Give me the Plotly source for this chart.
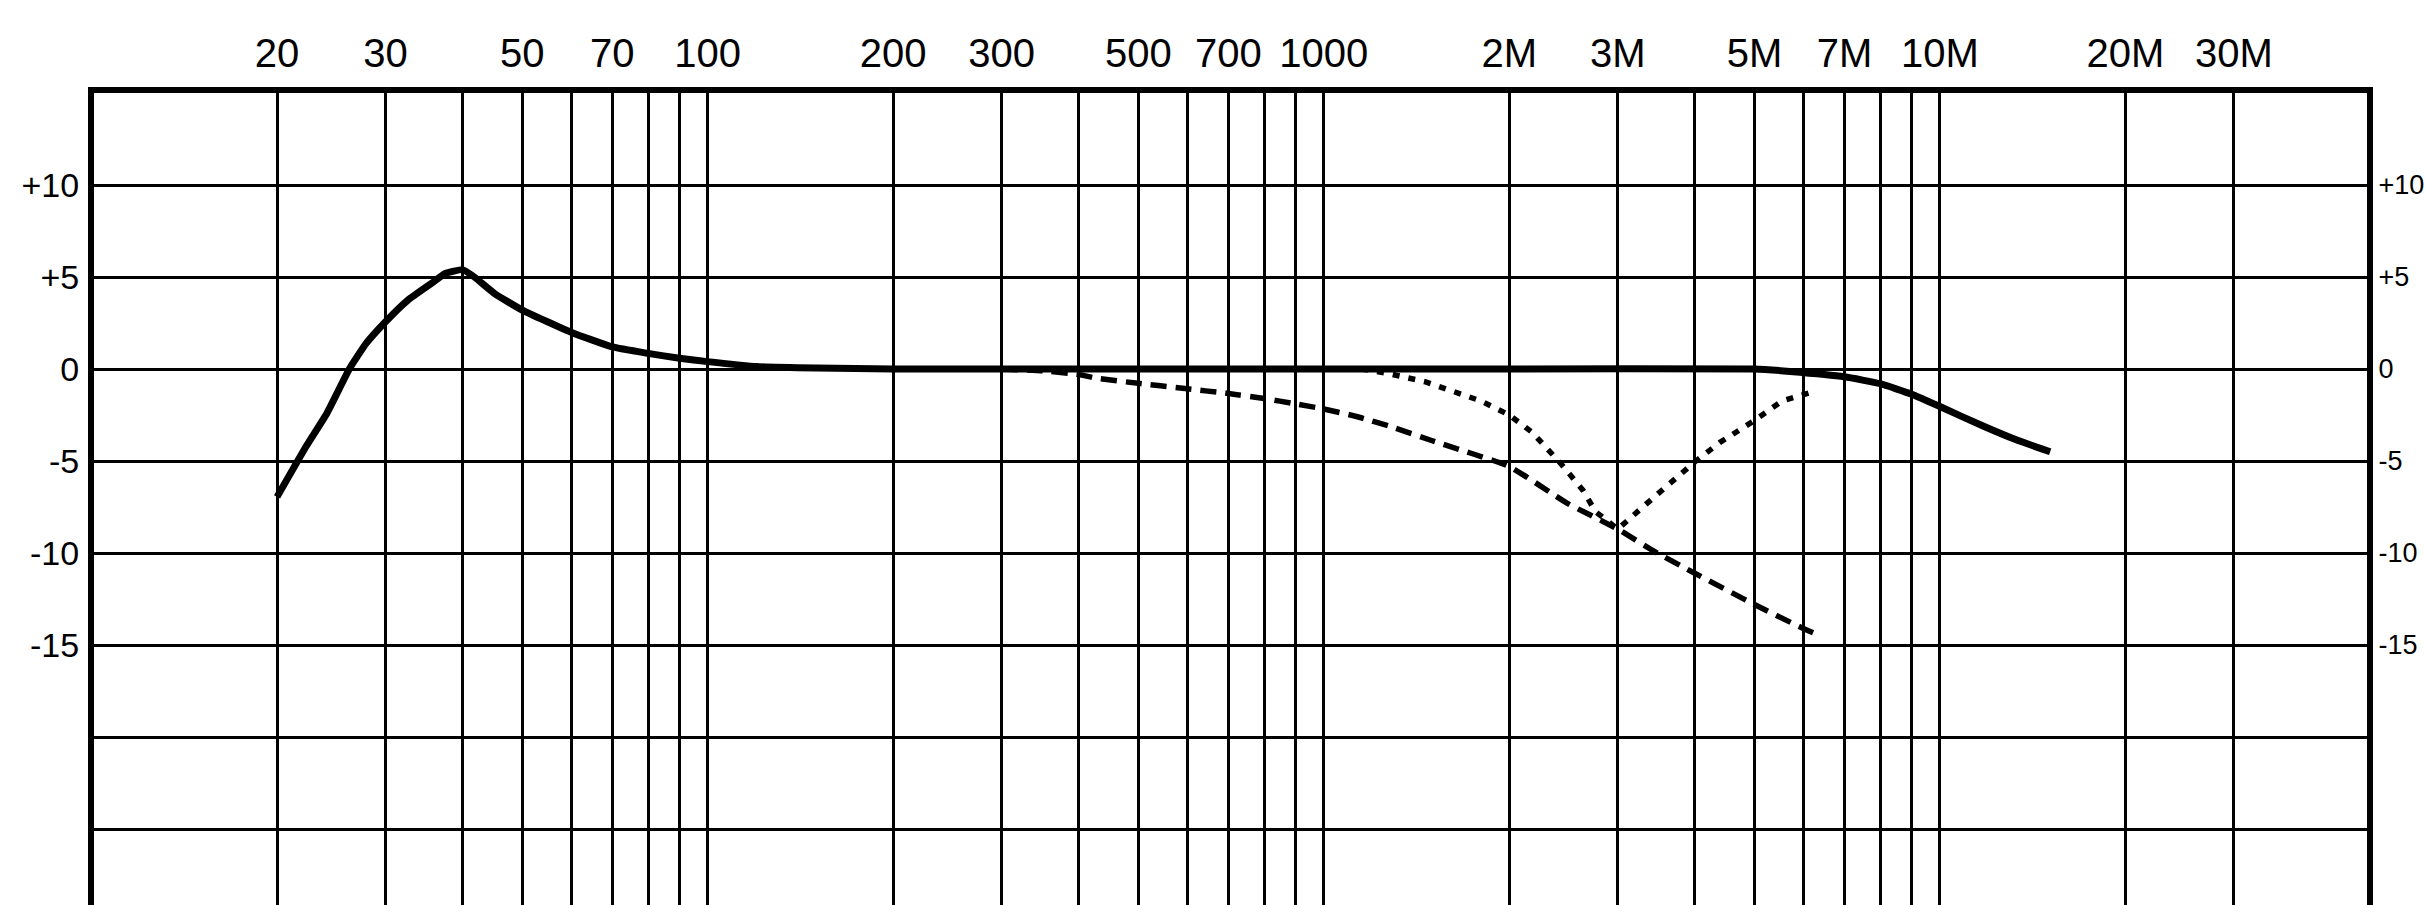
import plotly.graph_objects as go

# ---- data (frequency in kHz, level in dB) ----
tick_freq = [20, 30, 50, 70, 100, 200, 300, 500, 700, 1000, 2000, 3000, 5000, 7000, 10000, 20000, 30000]
tick_text = ["20", "30", "50", "70", "100", "200", "300", "500", "700", "1000",
             "2M", "3M", "5M", "7M", "10M", "20M", "30M"]
minor_freq = [40, 60, 80, 90, 400, 600, 800, 900, 4000, 6000, 8000, 9000]

db_ticks = [10, 5, 0, -5, -10, -15]
db_text = ["+10", "+5", "0", "-5", "-10", "-15"]
db_minor = [-20, -25]

solid_f = [20, 22.3, 24.1, 26.2, 27.9, 30, 32.6, 35.6, 37.5, 40, 41.8, 45.1, 50, 60, 70, 80, 90, 100,
           120, 150, 200, 500, 1000, 2000, 5000, 5710, 7000, 8000, 9000, 10000, 11750, 13300, 15100]
solid_db = [-6.95, -4.2, -2.4, 0.0, 1.39, 2.57, 3.74, 4.65, 5.19, 5.4, 5.0, 4.1, 3.2, 2.0, 1.2, 0.85, 0.58, 0.4,
            0.13, 0.05, 0.0, 0.0, 0.0, 0.0, 0.0, -0.13, -0.42, -0.8, -1.37, -2.04, -3.1, -3.85, -4.5]

dash_f = [300, 350, 400, 427, 500, 590, 700, 800, 900, 1000, 1130, 1290, 1500, 2000, 2485, 3000,
          3435, 4000, 5000, 6000, 6390]
dash_db = [0.0, -0.1, -0.3, -0.5, -0.78, -1.05, -1.33, -1.6, -1.9, -2.17, -2.58, -3.15, -3.9, -5.3, -7.3, -8.7,
           -9.9, -11.1, -12.8, -14.1, -14.5]

dot_f = [1150, 1268, 1463, 1800, 2000, 2180, 2425, 2635, 2760, 3000, 3346, 4000, 4390, 5000, 5543, 6180]
dot_db = [0.0, -0.23, -0.7, -1.74, -2.5, -3.45, -5.14, -6.6, -7.75, -8.7, -7.3, -5.05, -4.0, -2.8, -1.74, -1.27]

FONT = "Liberation Sans, Arial, sans-serif"

fig = go.Figure()
fig.add_trace(go.Scatter(x=solid_f, y=solid_db, mode="lines",
                         line=dict(color="black", width=7, shape="spline", smoothing=0.4),
                         hoverinfo="skip", showlegend=False))
fig.add_trace(go.Scatter(x=dash_f, y=dash_db, mode="lines",
                         line=dict(color="black", width=5.5, dash="16px,9px", shape="spline", smoothing=0.4),
                         hoverinfo="skip", showlegend=False))
fig.add_trace(go.Scatter(x=dot_f, y=dot_db, mode="lines",
                         line=dict(color="black", width=5.5, dash="7px,9px"),
                         hoverinfo="skip", showlegend=False))
fig.add_trace(go.Scatter(x=[tick_freq[0]], y=[0], yaxis="y2", mode="markers", marker=dict(opacity=0),
                         hoverinfo="skip", showlegend=False))

grid = dict(showgrid=True, gridcolor="black", gridwidth=2.6)

fig.update_layout(
    width=2425, height=905,
    margin=dict(l=94, r=58, t=93, b=0, pad=0),
    paper_bgcolor="white", plot_bgcolor="white",
    font=dict(family=FONT, size=40, color="black"),
    xaxis=dict(type="log", range=[1.0039, 4.6932], side="top", automargin=False,
               tickmode="array", tickvals=tick_freq, ticktext=tick_text,
               ticks="", ticklabelstandoff=4, tickfont=dict(size=40),
               minor=dict(tickmode="array", tickvals=minor_freq, ticks="", **grid),
               showline=True, linecolor="black", linewidth=6, mirror=False, zeroline=False, **grid),
    yaxis=dict(range=[-29.13, 15], automargin=False, tickmode="array", tickvals=db_ticks, ticktext=db_text,
               ticks="", ticklabelstandoff=2, tickfont=dict(size=34),
               minor=dict(tickmode="array", tickvals=db_minor, ticks="", **grid),
               showline=True, linecolor="black", linewidth=6, zeroline=False, **grid),
    yaxis2=dict(range=[-29.13, 15], overlaying="y", side="right", automargin=False,
                tickmode="array", tickvals=db_ticks, ticktext=db_text,
                ticks="", ticklabelstandoff=0, tickfont=dict(size=27), showgrid=False,
                showline=True, linecolor="black", linewidth=6, zeroline=False),
)

fig.write_html("out.html", config={"displayModeBar": False},
               post_script="document.body.style.margin='0px';document.body.style.overflow='hidden';")
